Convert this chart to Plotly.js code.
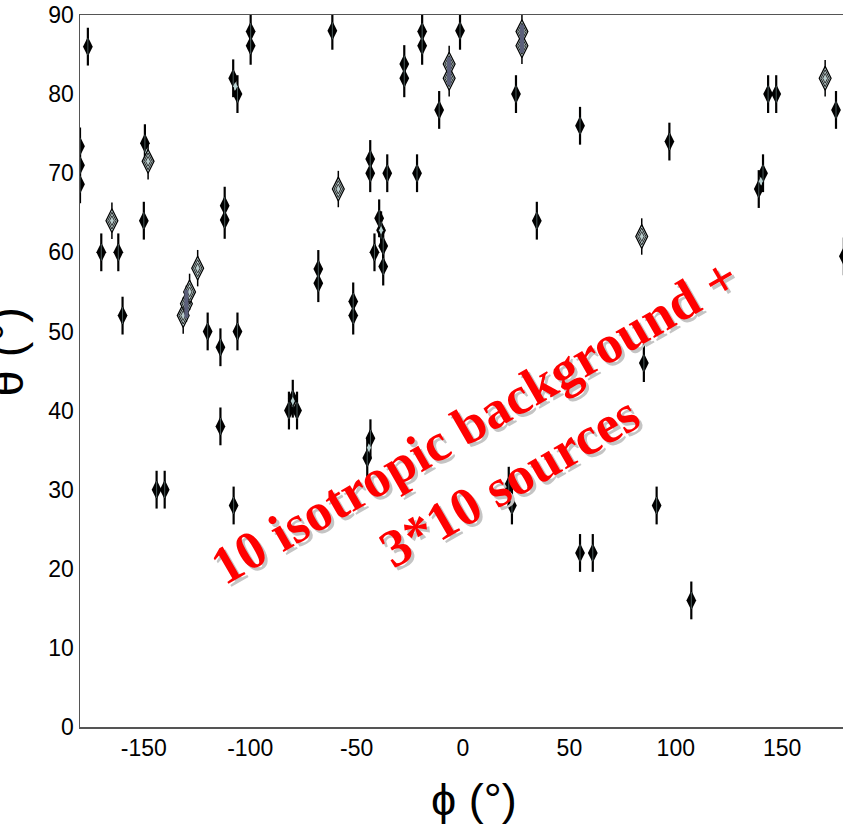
<!DOCTYPE html>
<html>
<head>
<meta charset="utf-8">
<script src="https://cdn.plot.ly/plotly-3.0.1.min.js"></script>
<style>
html, body { margin: 0; padding: 0; overflow: hidden; background: #fff; }
#chart { width: 848px; height: 826px; }
</style>
</head>
<body>
<div id="chart"></div>
<script>
// Event positions (phi, theta) in degrees
const darkPhi = [-176.3, -180, -180, -180, -99.8, -99.8, -108, -106, -149.5, -150,
  -112, -112, -170, -162, -160, -120, -106, -114, -81.8, -78, -80, -114, -144, -140.2,
  -107.8, -61.4, -19.2, -19.2, -1.4, -27.6, -27.6, -11.2, 24.9, 55, -43.6, -43.6,
  -35.6, -21.6, -39.4, -38.5, -37.5, -37.5, -41.6, -68, -68, -51.6, -51.6, 143.4,
  147.2, 175.3, 97, 141, 139, 179, 85, 91, 55, 61, 107.3, -43.5, -45, 21.5, 23, 34.7];
const darkTheta = [86.0, 68.6, 71.0, 73.4, 86.1, 87.9, 82.0, 80.0, 73.8, 64,
  64.1, 65.9, 60, 60, 52, 50, 50, 48, 40, 40, 41.5, 38, 30, 30,
  28, 88, 86.1, 87.9, 88, 82.0, 83.8, 78, 80, 76, 70.0, 71.8,
  70, 70, 64.3, 62.8, 58.2, 60.8, 60, 56.1, 57.9, 52.0, 53.8, 80,
  80, 78, 74, 70, 68, 59.5, 46, 28, 22, 22, 16, 36.5, 34, 30.5, 28, 64];

const brightPhi = [-148, -165, -124.7, -131.5, -130, -128.5, -58.6, 27.7, 27.7, -6.5, -6.5, 84, 170.2];
const brightTheta = [71.5, 64, 58, 52, 53.5, 55, 68, 86.1, 87.9, 82.0, 83.8, 62, 82];

const corePhi = [-107, -80, -44.2, 140, -38.5, -148.5];
const coreTheta = [81, 41.2, 35.3, 69, 62.8, 72.6];

const deepPhi = [27.7, -6.5, -130];
const deepTheta = [87, 82.9, 53.5];

const xTicks = [-150, -100, -50, 0, 50, 100, 150];
const yTicks = [0, 10, 20, 30, 40, 50, 60, 70, 80, 90];
const xTitle = 'ϕ (°)';
const yTitle = 'θ (°)';
const labelText = "10 isotropic background +<br>3*10 sources";

const traces = [
  {x: darkPhi, y: darkTheta, mode: 'markers', type: 'scatter',
   marker: {symbol: 'line-ns', size: 27, color: '#000', line: {color: '#000', width: 2.2}}},
  {x: darkPhi, y: darkTheta, mode: 'markers', type: 'scatter',
   marker: {symbol: 'diamond-tall', size: 14, color: '#000', line: {width: 0}}},
  {x: darkPhi, y: darkTheta, mode: 'markers', type: 'scatter',
   marker: {symbol: 'line-ns', size: 12, color: '#4a5a5a', line: {color: '#4a5a5a', width: 1}}},
  {x: corePhi, y: coreTheta, mode: 'markers', type: 'scatter',
   marker: {symbol: 'diamond-tall', size: 6, color: '#b9d2d2', line: {width: 0}}},
  {x: brightPhi, y: brightTheta, mode: 'markers', type: 'scatter',
   marker: {symbol: 'line-ns', size: 26, color: '#000', line: {color: '#000', width: 1.5}}},
  {x: brightPhi, y: brightTheta, mode: 'markers', type: 'scatter',
   marker: {symbol: 'diamond-tall', size: 17, color: '#b8cccc', line: {color: '#000', width: 1.2}}},
  {x: brightPhi, y: brightTheta, mode: 'markers', type: 'scatter',
   marker: {symbol: 'diamond-tall-open', size: 12, color: '#222', line: {color: '#222', width: 1}}},
  {x: brightPhi, y: brightTheta, mode: 'markers', type: 'scatter',
   marker: {symbol: 'diamond-tall-open', size: 7, color: '#333', line: {color: '#333', width: 1}}},
  {x: deepPhi, y: deepTheta, mode: 'markers', type: 'scatter',
   marker: {symbol: 'line-ns', size: 20, color: '#5b5f7a', line: {color: '#5b5f7a', width: 4}}}
];

const titleFont = 'Liberation Sans, Arial, sans-serif';

const layout = {
  width: 848, height: 826,
  margin: {l: 80, r: 2, t: 15, b: 99},
  paper_bgcolor: '#fff', plot_bgcolor: '#fff',
  showlegend: false,
  font: {family: titleFont, color: '#000'},
  xaxis: {
    range: [-180, 180], tickvals: xTicks, ticktext: xTicks.map(String),
    showgrid: false, zeroline: false, showline: true, mirror: true,
    linecolor: '#555', linewidth: 1.5, ticks: '',
    tickfont: {size: 23, family: titleFont}
  },
  yaxis: {
    range: [0, 90], tickvals: yTicks, ticktext: yTicks.map(String),
    showgrid: false, zeroline: false, showline: true, mirror: true,
    linecolor: '#555', linewidth: 1.5, ticks: '',
    tickfont: {size: 23, family: titleFont}
  },
  annotations: [
    {x: 0.5144, y: -0.1025, xref: 'paper', yref: 'paper', text: xTitle, showarrow: false,
     xanchor: 'center', yanchor: 'middle', font: {size: 45, family: titleFont, color: '#000'}},
    {x: -0.0947, y: 0.5267, xref: 'paper', yref: 'paper', text: yTitle, showarrow: false,
     textangle: -90, xanchor: 'center', yanchor: 'middle', font: {size: 47, family: titleFont, color: '#000'}},
    {x: 13.8, y: 34.9, xref: 'x', yref: 'y', text: labelText, showarrow: false,
     textangle: -30, xshift: 3, yshift: -3, align: 'center',
     font: {family: 'Liberation Serif, Times New Roman, serif', size: 53.5, color: '#c4c4c4', weight: 'bold'}},
    {x: 13.8, y: 34.9, xref: 'x', yref: 'y', text: labelText, showarrow: false,
     textangle: -30, align: 'center',
     font: {family: 'Liberation Serif, Times New Roman, serif', size: 53.5, color: '#ff0000', weight: 'bold'}}
  ]
};

Plotly.newPlot('chart', traces, layout, {displayModeBar: false, staticPlot: true});
</script>
</body>
</html>
